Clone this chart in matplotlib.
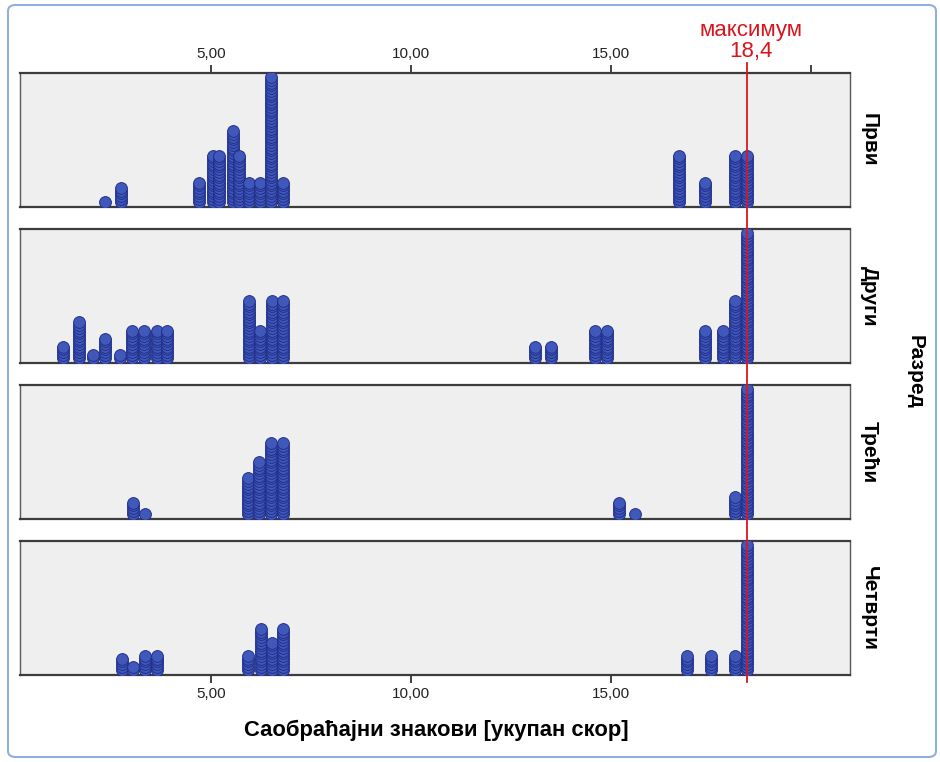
import matplotlib
matplotlib.use("Agg")
import matplotlib.pyplot as plt
from matplotlib.lines import Line2D
from matplotlib.patches import FancyBboxPatch
from matplotlib.transforms import blended_transform_factory

plt.rcParams["font.family"] = ["Liberation Sans", "DejaVu Sans"]

# grade labels (right side) and stacked-dot data: score value -> number of dots
grades = ["Први", "Други", "Трећи", "Четврти"]

scores_1 = [2.35, 2.75, 4.7, 5.05, 5.2, 5.55, 5.7, 5.95, 6.22, 6.5, 6.8, 16.7, 17.35, 18.1, 18.4]
counts_1 = [1, 6, 8, 18, 18, 27, 18, 8, 8, 47, 8, 18, 8, 18, 18]

scores_2 = [1.29, 1.7, 2.06, 2.35, 2.73, 3.02, 3.33, 3.64, 3.89, 5.95, 6.22, 6.52, 6.8,
            13.1, 13.49, 14.6, 14.89, 17.35, 17.79, 18.1, 18.4]
counts_2 = [5, 14, 2, 8, 2, 11, 11, 11, 11, 22, 11, 22, 22, 5, 5, 11, 11, 11, 11, 22, 47]

scores_3 = [3.06, 3.35, 5.93, 6.21, 6.49, 6.8, 15.2, 15.6, 18.1, 18.4]
counts_3 = [5, 1, 14, 20, 27, 27, 5, 1, 7, 47]

scores_4 = [2.77, 3.06, 3.35, 3.64, 5.93, 6.24, 6.52, 6.8, 16.9, 17.49, 18.1, 18.4]
counts_4 = [5, 2, 6, 6, 6, 16, 11, 16, 6, 6, 6, 47]

panel_scores = [scores_1, scores_2, scores_3, scores_4]
panel_counts = [counts_1, counts_2, counts_3, counts_4]

max_score = 18.4
ticks = [5, 10, 15]
tick_labels = ["5,00", "10,00", "15,00"]

W, H = 940, 762
fig = plt.figure(figsize=(W / 100, H / 100), dpi=100)

# blue frame round the picture
fig.add_artist(FancyBboxPatch((8 / W, 5 / H), 928 / W, 752 / H,
                              boxstyle="round,pad=0,rounding_size=0.008",
                              transform=fig.transFigure, fill=False,
                              edgecolor="#8fb0dc", linewidth=1.5))

panel_tops = [73, 229, 385, 541]
panel_h = 134
left, right = 20, 850
step = 2.7  # px between stacked dots

axes = []
for i, (vals, cnts) in enumerate(zip(panel_scores, panel_counts)):
    top = panel_tops[i]
    ax = fig.add_axes([left / W, 1 - (top + panel_h) / H, (right - left) / W, panel_h / H])
    ax.set_facecolor("#efefef")
    for v, n in zip(vals, cnts):
        ax.scatter([v] * n, list(range(n)), s=72, facecolor="#4058ba",
                   edgecolor="#22308c", linewidth=0.7, zorder=3)
    ax.set_xlim(0.225, 20.975)
    ax.set_ylim(-5.5 / step, -5.5 / step + panel_h / step)
    ax.set_yticks([])
    for side in ["top", "bottom"]:
        ax.spines[side].set_color("#3c3c3c")
        ax.spines[side].set_linewidth(1.6)
    for side in ["left", "right"]:
        ax.spines[side].set_color("#5a5a5a")
        ax.spines[side].set_linewidth(1.0)
    ax.set_xticks(ticks)
    if i == 0:
        ax.xaxis.tick_top()
        ax.set_xticks(ticks + [20])
        ax.set_xticklabels(tick_labels + [""])
    elif i == 3:
        ax.set_xticklabels(tick_labels)
    else:
        ax.tick_params(axis="x", length=0, labelbottom=False)
    ax.tick_params(axis="x", direction="out", length=6, width=1.2,
                   labelsize=11, pad=3, colors="#222222")
    if i in (1, 2):
        ax.tick_params(axis="x", length=0)
    ax.text(1.012, 0.5, grades[i], transform=ax.transAxes, rotation=-90,
            ha="left", va="center", fontsize=15, fontweight="bold")
    axes.append(ax)

fig.text(915 / W, 1 - 372 / H, "Разред", rotation=-90, ha="center", va="center",
         fontsize=15, fontweight="bold")
fig.text(436 / W, 1 - 730 / H, "Саобраћајни знакови [укупан скор]",
         ha="center", va="center", fontsize=15.8, fontweight="bold")

# maximum line across all panels
tr = blended_transform_factory(axes[0].transData, fig.transFigure)
fig.add_artist(Line2D([max_score, max_score], [1 - 63 / H, 1 - 682 / H],
                      transform=tr, color="#e0141e", linewidth=1.3, zorder=10))
fig.text(max_score + 0.1, 1 - 62 / H, "максимум\n" + f"{max_score:.1f}".replace(".", ","),
         transform=tr, ha="center", va="bottom", color="#d9141c",
         fontsize=16, linespacing=1.0)

fig.savefig("out.png", dpi=100)
